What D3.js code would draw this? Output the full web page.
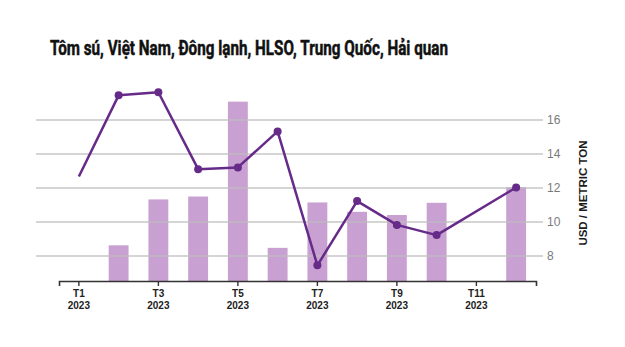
<!DOCTYPE html>
<html>
<head>
<meta charset="utf-8">
<script src="https://cdn.jsdelivr.net/npm/d3@7"></script>
<style>
  html, body { margin: 0; padding: 0; background: #fff; }
  svg { display: block; }
</style>
</head>
<body>
<svg id="chart" width="625" height="347"></svg>
<script>
// Monthly series, 2023
const months = ["T1", "T2", "T3", "T4", "T5", "T6", "T7", "T8", "T9", "T10", "T11", "T12"];
const tickMonths = ["T1", "T3", "T5", "T7", "T9", "T11"];
const yearLabel = "2023";
// bar series (null = no data that month)
const barValues = [null, 8.6, 11.3, 11.47, 17.05, 8.45, 11.12, 10.57, 10.38, 11.1, null, 12.02];
// price line, USD / metric ton (null = no data that month)
const priceValues = [12.65, 17.42, 17.6, 13.08, 13.18, 15.3, 7.42, 11.2, 9.8, 9.2, null, 12.0];
const yTicks = [8, 10, 12, 14, 16];

const titleText = "Tôm sú, Việt Nam, Đông lạnh, HLSO, Trung Quốc, Hải quan";
const yAxisTitle = "USD / METRIC TON";

const svg = d3.select("#chart");

const x = d3.scaleBand().domain(months).range([59, 536]).paddingInner(0.5).paddingOuter(0.25);
const y = d3.scaleLinear().domain([6.5, 18]).range([281, 85.5]);
const cx = m => x(m) + x.bandwidth() / 2;

// title
svg.append("text")
  .attr("x", 50).attr("y", 54.5)
  .attr("textLength", 398).attr("lengthAdjust", "spacingAndGlyphs")
  .style("font-family", "'Roboto', 'Liberation Sans Narrow', sans-serif")
  .style("font-weight", "bold")
  .style("font-size", "21px")
  .style("fill", "#111")
  .style("stroke", "#111")
  .style("stroke-width", "0.5px")
  .text(titleText);

// bars
svg.append("g").selectAll("rect")
  .data(months.map((m, i) => ({ m, v: barValues[i] })).filter(d => d.v != null))
  .join("rect")
  .attr("x", d => x(d.m))
  .attr("width", x.bandwidth())
  .attr("y", d => y(d.v))
  .attr("height", d => y(6.5) - y(d.v))
  .attr("fill", "#c9a0d2");

// horizontal grid with right-hand labels
const yAxis = d3.axisRight(y).tickValues(yTicks).tickSize(507).tickPadding(4);
const gy = svg.append("g").attr("transform", "translate(36,0)").call(yAxis);
gy.select(".domain").remove();
gy.selectAll(".tick line").attr("stroke", "#bdbdbd").attr("stroke-opacity", 0.85).attr("stroke-width", 1.5);
gy.selectAll(".tick text")
  .style("font-family", "'Liberation Sans', Arial, sans-serif")
  .style("font-size", "12px")
  .style("fill", "#7a7a7a");

svg.append("text")
  .attr("transform", "translate(587,193) rotate(-90)")
  .attr("text-anchor", "middle")
  .style("font-family", "'Liberation Sans', Arial, sans-serif")
  .style("font-weight", "bold")
  .style("font-size", "11.5px")
  .style("fill", "#1a1a1a")
  .text(yAxisTitle);

// bottom axis
const xAxis = d3.axisBottom(x).tickValues(tickMonths).tickSizeInner(5).tickSizeOuter(5).tickPadding(4);
const gx = svg.append("g").attr("transform", "translate(0,281)").call(xAxis);
gx.select(".domain").attr("stroke", "#333").attr("stroke-width", 1.6);
gx.selectAll(".tick line").attr("stroke", "#333").attr("stroke-width", 1.4);
gx.selectAll(".tick text").remove();
gx.selectAll(".tick").each(function(m) {
  const t = d3.select(this).append("text")
    .attr("text-anchor", "middle")
    .style("font-family", "'Liberation Sans', Arial, sans-serif")
    .style("font-weight", "bold")
    .style("font-size", "10px")
    .style("fill", "#222");
  t.append("tspan").attr("x", 0).attr("y", 16).text(m);
  t.append("tspan").attr("x", 0).attr("y", 28).text(yearLabel);
});

// price line
const pts = months.map((m, i) => ({ m, i, v: priceValues[i] })).filter(d => d.v != null);
const line = d3.line().x(d => cx(d.m)).y(d => y(d.v));
svg.append("path")
  .datum(pts)
  .attr("d", line)
  .attr("fill", "none")
  .attr("stroke", "#662a88")
  .attr("stroke-width", 2.5)
  .attr("stroke-linejoin", "round");

// markers (the series enters at T1 without one)
svg.append("g").selectAll("circle")
  .data(pts.filter(d => d.i > 0))
  .join("circle")
  .attr("cx", d => cx(d.m))
  .attr("cy", d => y(d.v))
  .attr("r", 4)
  .attr("fill", "#662a88");
</script>
</body>
</html>
